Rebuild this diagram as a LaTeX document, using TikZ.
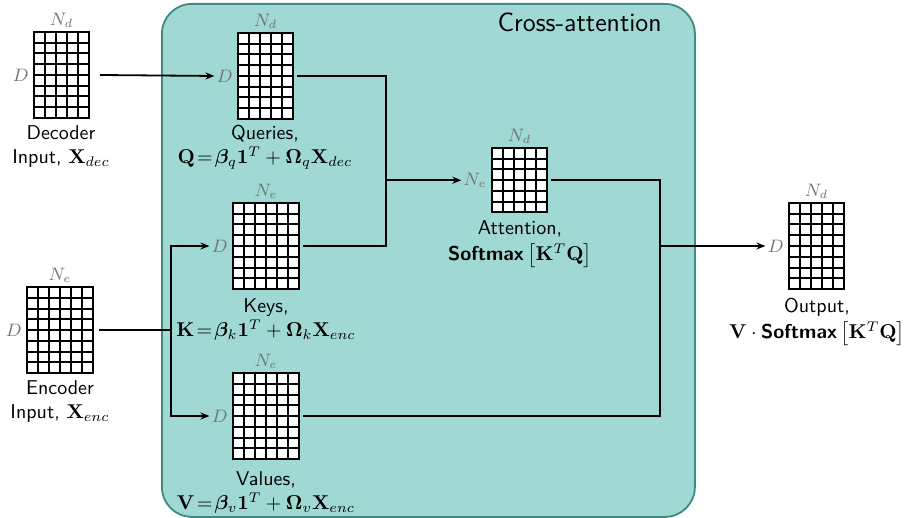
\documentclass[tikz,border=0pt]{standalone}
\usepackage{amsmath,bm}
\usetikzlibrary{arrows.meta}
\definecolor{boxfill}{RGB}{160,216,211}
\definecolor{boxdraw}{RGB}{62,137,128}
\definecolor{lab}{RGB}{115,115,115}
\newcommand\gridmat[7]{% name, left x, top y, cols, rows, top label, side label
  \node[matbox, minimum width={#4*5.5pt}, minimum height={#5*5.375pt}, anchor=north west] (#1) at (#2,#3) {};
  \foreach \i in {2,...,#4} \draw[gridl] ({#2+(\i-1)*11},#3) -- ++(0,{#5*10.75});
  \foreach \j in {2,...,#5} \draw[gridl] (#2,{#3+(\j-1)*10.75}) -- ++({#4*11},0);
  \node[toplab, anchor=south] (#1-top) at ([yshift=2pt]#1.north) {$#6$};
  \node[toplab, anchor=east] (#1-side) at ([xshift=-2.5pt]#1.west) {$#7$};
}
\begin{document}
\begin{tikzpicture}[x=0.5pt,y=-0.5pt,
  every node/.style={font=\sffamily},
  matbox/.style={draw=black, fill=white, line width=1pt, inner sep=0pt, outer sep=0pt},
  gridl/.style={line width=1pt},
  toplab/.style={text=lab, inner sep=0pt, font=\small},
  captxt/.style={align=center, inner sep=0pt, anchor=north},
  conn/.style={line width=0.9pt},
  arr/.style={-{Stealth[length=4.5pt,width=3.5pt]}, shorten >=1pt}]
\useasboundingbox (0,0) rectangle (904,518);
% cross-attention box
\node[draw=boxdraw, fill=boxfill, line width=0.9pt, rounded corners=15pt, minimum width=266.5pt, minimum height=256.5pt, anchor=north west, inner sep=0pt] (ca) at (161,3) {};
\node[anchor=east, font=\sffamily\fontsize{13.2}{16}\selectfont, inner sep=0pt] (catitle) at (662,22) {Cross-attention};
% matrices
\gridmat{dec}{34}{32}{5}{8}{N_d}{D}
\gridmat{q}{238}{33}{5}{8}{N_d}{D}
\gridmat{k}{233}{203}{6}{8}{N_e}{D}
\gridmat{v}{233}{373}{6}{8}{N_e}{D}
\gridmat{enc}{27}{287}{6}{8}{N_e}{D}
\gridmat{att}{492}{148}{5}{6}{N_d}{N_e}
\gridmat{out}{789}{203}{5}{8}{N_d}{D}
% captions
\node[captxt] (dec-cap) at (61,125) {Decoder\\Input, $\mathbf{X}_{dec}$};
\node[captxt] (enc-cap) at (60,380) {Encoder\\Input, $\mathbf{X}_{enc}$};
\node[captxt] (q-cap) at (265,125) {Queries,\\$\mathbf{Q}\!=\!\bm{\beta}_q\mathbf{1}^T+\bm{\Omega}_q\mathbf{X}_{dec}$};
\node[captxt] (k-cap) at (266,298) {Keys,\\$\mathbf{K}\!=\!\bm{\beta}_k\mathbf{1}^T+\bm{\Omega}_k\mathbf{X}_{enc}$};
\node[captxt] (v-cap) at (266,471) {Values,\\$\mathbf{V}\!=\!\bm{\beta}_v\mathbf{1}^T+\bm{\Omega}_v\mathbf{X}_{enc}$};
\node[captxt] (att-cap) at (520,220) {Attention,\\[1pt]\textbf{Softmax}\,$\bigl[\mathbf{K}^T\mathbf{Q}\bigr]$};
\node[captxt] (out-cap) at (817,298) {Output,\\[1pt]$\mathbf{V}\cdot{}$\textbf{Softmax}\,$\bigl[\mathbf{K}^T\mathbf{Q}\bigr]$};
% junctions
\coordinate (jq) at (386,180.25);
\coordinate (jo) at (660,246);
\coordinate (je) at (171,330);
% connectors
\draw[conn,arr] ([xshift=5.5pt]dec.east) -- (q-side.west);
\draw[conn] ([xshift=2pt]q.east) -| (jq);
\draw[conn] ([xshift=2pt]k.east) -| (jq);
\draw[conn,arr] (jq) -- (att-side.west);
\draw[conn] ([xshift=2pt]att.east) -| (jo);
\draw[conn] ([xshift=2pt]v.east) -| (jo);
\draw[conn,arr] (jo) -- (out-side.west);
\draw[conn] ([xshift=3pt]enc.east) -- (je);
\draw[conn,arr] (je) |- (k-side.west);
\draw[conn,arr] (je) |- (v-side.west);
\end{tikzpicture}
\end{document}
